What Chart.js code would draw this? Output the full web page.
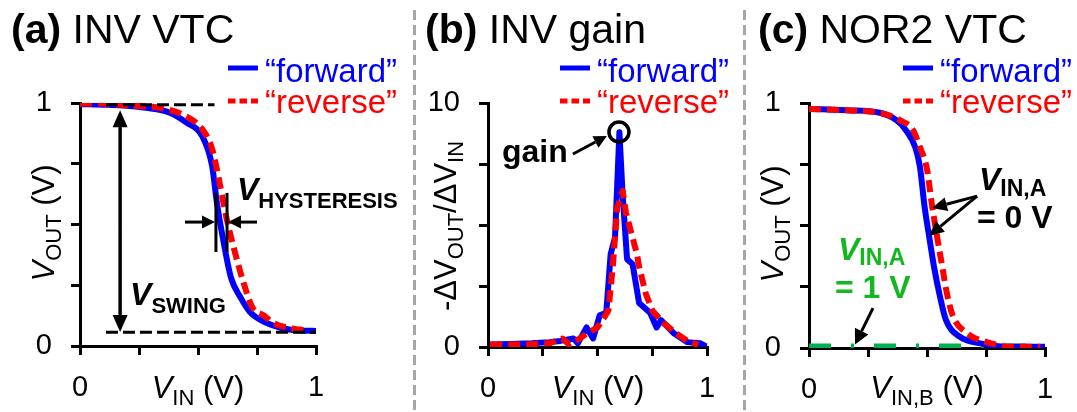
<!DOCTYPE html>
<html>
<head>
<meta charset="utf-8">
<script src="https://cdn.jsdelivr.net/npm/chart.js@4"></script>
<style>
  body { margin: 0; background: #fff; width: 1077px; height: 412px; position: relative; overflow: hidden; }
  canvas { position: absolute; top: 0; }
  .sep { position: absolute; top: 10px; width: 3px; height: 402px;
         background: repeating-linear-gradient(to bottom, #a6a6a6 0 10px, transparent 10px 15px); }
</style>
</head>
<body>
<canvas id="chartA" width="415" height="412" style="left:0"></canvas>
<canvas id="chartB" width="330" height="412" style="left:415px"></canvas>
<canvas id="chartC" width="332" height="412" style="left:745px"></canvas>
<div class="sep" style="left:413px"></div>
<div class="sep" style="left:743px"></div>
<script>
// (a) inverter VTC
const aFwdVin  = [0, 0.1, 0.18, 0.28, 0.38, 0.45, 0.52, 0.56, 0.58, 0.61, 0.64, 0.68, 0.72, 0.79, 0.85, 0.9, 0.95, 1.0];
const aFwdVout = [0.995, 0.993, 0.99, 0.98, 0.96, 0.92, 0.86, 0.74, 0.59, 0.42, 0.28, 0.20, 0.14, 0.095, 0.075, 0.066, 0.063, 0.062];
const aRevVin  = [0, 0.1, 0.2, 0.34, 0.44, 0.52, 0.56, 0.59, 0.62, 0.65, 0.69, 0.73, 0.78, 0.82, 0.88, 0.93, 0.96];
const aRevVout = [0.998, 0.998, 0.99, 0.98, 0.95, 0.89, 0.81, 0.68, 0.53, 0.41, 0.27, 0.16, 0.125, 0.095, 0.075, 0.068, 0.065];

// (b) inverter gain
const bFwdVin  = [0.01, 0.1, 0.2, 0.28, 0.33, 0.36, 0.39, 0.41, 0.45, 0.48, 0.51, 0.54, 0.56, 0.58, 0.60, 0.615, 0.635, 0.66, 0.69, 0.74, 0.77, 0.79, 0.85, 0.91, 0.97, 1.0];
const bFwdGain = [0.1, 0.12, 0.15, 0.2, 0.25, 0.3, 0.35, 0.15, 0.8, 0.35, 1.3, 1.4, 3.8, 4.5, 8.8, 6.2, 3.6, 3.4, 1.8, 1.4, 0.8, 1.1, 0.55, 0.2, 0.15, 0];
const bRevVin  = [0.01, 0.16, 0.28, 0.34, 0.37, 0.42, 0.45, 0.50, 0.53, 0.55, 0.57, 0.59, 0.615, 0.63, 0.66, 0.68, 0.69, 0.72, 0.75, 0.80, 0.86, 0.92, 0.96];
const bRevGain = [0.1, 0.1, 0.15, 0.35, 0.1, 0.35, 0.55, 0.8, 1.2, 1.5, 3.3, 5.7, 6.4, 5.5, 4.5, 3.8, 3.3, 2.2, 1.5, 1.0, 0.55, 0.2, 0.1];

// (c) NOR2 VTC
const cFwdVin  = [0, 0.16, 0.30, 0.37, 0.41, 0.45, 0.47, 0.49, 0.51, 0.53, 0.555, 0.58, 0.64, 0.72, 0.86, 1.0];
const cFwdVout = [0.976, 0.97, 0.96, 0.93, 0.89, 0.82, 0.74, 0.575, 0.45, 0.33, 0.21, 0.115, 0.045, 0.02, 0.005, 0.005];
const cRevVin  = [0, 0.16, 0.30, 0.385, 0.44, 0.47, 0.50, 0.52, 0.54, 0.565, 0.585, 0.61, 0.67, 0.75, 0.86, 0.98];
const cRevVout = [0.976, 0.97, 0.96, 0.93, 0.89, 0.82, 0.73, 0.59, 0.47, 0.33, 0.22, 0.13, 0.06, 0.025, 0.005, 0.005];
const cLowVin  = [0, 0.25, 0.5, 0.75, 1.0];
const cLowVout = [0.006, 0.006, 0.006, 0.006, 0.006];

// labelled ticks
const voltLabels = [0, 1];
const gainLabels = [0, 10];

const F = '"Liberation Sans", Arial, Helvetica, sans-serif';
const BLUE = '#0000ff', RED = '#ff0000', GREEN_LINE = '#00b050', GREEN_TXT = '#12b81e';

function pts(xs, ys) { return xs.map((x, i) => ({ x: x, y: ys[i] })); }

function series(xs, ys, color, dash, order, smooth) {
  return {
    data: pts(xs, ys), borderColor: color, borderWidth: 6, borderDash: dash || [],
    pointRadius: 0, fill: false, order: order, tension: 0,
    cubicInterpolationMode: smooth ? 'monotone' : 'default',
    borderCapStyle: 'butt', borderJoinStyle: 'round'
  };
}

function axis(min, max, step, labelled, size, dir) {
  return {
    type: 'linear', min: min, max: max,
    ticks: {
      stepSize: step, autoSkip: false, maxRotation: 0, color: '#000',
      font: { family: F, size: 29 }, padding: dir === 'x' ? 16 : 19,
      callback: v => labelled.includes(v) ? String(v) : ''
    },
    grid: { drawOnChartArea: false, drawTicks: true, tickLength: 9, lineWidth: 3, color: '#000' },
    border: { display: true, width: 3, color: '#000' },
    afterFit: s => { if (dir === 'x') s.height = size; else s.width = size; }
  };
}

// draw a row of text runs: [text, style, size, dy]
function runs(ctx, x, y, parts, color, center, rotate) {
  ctx.save();
  ctx.fillStyle = color;
  ctx.textBaseline = 'alphabetic';
  ctx.textAlign = 'left';
  const fnt = p => (p[1] ? p[1] + ' ' : '') + p[2] + 'px ' + F;
  let w = 0;
  parts.forEach(p => { ctx.font = fnt(p); w += ctx.measureText(p[0]).width; });
  ctx.translate(x, y);
  if (rotate) ctx.rotate(-Math.PI / 2);
  let cx = center ? -w / 2 : 0;
  parts.forEach(p => {
    ctx.font = fnt(p);
    ctx.fillText(p[0], cx, p[3] || 0);
    cx += ctx.measureText(p[0]).width;
  });
  ctx.restore();
}

function arrow(ctx, x1, y1, x2, y2, head, hw, color) {
  const a = Math.atan2(y2 - y1, x2 - x1);
  const bx = x2 - head * Math.cos(a), by = y2 - head * Math.sin(a);
  ctx.save();
  ctx.strokeStyle = color || '#000'; ctx.fillStyle = color || '#000'; ctx.lineWidth = 3;
  ctx.beginPath(); ctx.moveTo(x1, y1); ctx.lineTo(bx, by); ctx.stroke();
  ctx.beginPath(); ctx.moveTo(x2, y2);
  ctx.lineTo(bx + hw * Math.sin(a), by - hw * Math.cos(a));
  ctx.lineTo(bx - hw * Math.sin(a), by + hw * Math.cos(a));
  ctx.closePath(); ctx.fill();
  ctx.restore();
}

function seg(ctx, x1, y1, x2, y2, w, dash) {
  ctx.save();
  ctx.strokeStyle = '#000'; ctx.lineWidth = w; ctx.setLineDash(dash || []);
  ctx.beginPath(); ctx.moveTo(x1, y1); ctx.lineTo(x2, y2); ctx.stroke();
  ctx.restore();
}

// titles, legend and axis titles, in page pixels
function frame(ctx, ox, p) {
  ctx.save();
  ctx.translate(-ox, 0);
  runs(ctx, p.titleX, 43, [[p.tag, 'bold', 41], [' ' + p.title, '', 41]], '#000');
  const lx = p.legX;
  ctx.lineWidth = 5;
  ctx.strokeStyle = BLUE;
  ctx.beginPath(); ctx.moveTo(lx, 68); ctx.lineTo(lx + 30, 68); ctx.stroke();
  ctx.strokeStyle = RED; ctx.setLineDash([7.5, 4]);
  ctx.beginPath(); ctx.moveTo(lx, 101); ctx.lineTo(lx + 30, 101); ctx.stroke();
  ctx.setLineDash([]);
  runs(ctx, lx + 37, 82, [['\u201cforward\u201d', '', 33]], BLUE);
  runs(ctx, lx + 37, 113, [['\u201creverse\u201d', '', 33]], RED);
  runs(ctx, p.xtX, 398, p.xTitle, '#000', true);
  runs(ctx, p.ytX, p.ytY, p.yTitle, '#000', true, true);
  ctx.restore();
}

function scaler(chart) {
  const sx = chart.scales.x, sy = chart.scales.y;
  return [v => sx.getPixelForValue(v), v => sy.getPixelForValue(v)];
}

const decoA = { id: 'decoA', afterDraw(chart) {
  const ctx = chart.ctx;
  const [X, Y] = scaler(chart);
  seg(ctx, X(0.11), Y(0.993), X(0.57), Y(0.993), 3, [12, 5]);
  seg(ctx, X(0.11), Y(0.057), X(1.0), Y(0.057), 3, [12, 5]);
  // swing double arrow
  const ax = X(0.17);
  seg(ctx, ax, Y(0.9), ax, Y(0.13), 3);
  arrow(ctx, ax, Y(0.5), ax, Y(0.97), 17, 7.5);
  arrow(ctx, ax, Y(0.5), ax, Y(0.058), 17, 7.5);
  runs(ctx, X(0.212), Y(0.169), [['V', 'bold italic', 32], ['SWING', 'bold', 22, 8]], '#000');
  // hysteresis bars and arrows
  seg(ctx, X(0.576), Y(0.63), X(0.576), Y(0.387), 3);
  seg(ctx, X(0.623), Y(0.63), X(0.623), Y(0.387), 3);
  arrow(ctx, X(0.445), Y(0.51), X(0.572), Y(0.51), 13, 6.5);
  arrow(ctx, X(0.75), Y(0.51), X(0.627), Y(0.51), 13, 6.5);
  runs(ctx, X(0.665), Y(0.60), [['V', 'bold italic', 32], ['HYSTERESIS', 'bold', 22, 8]], '#000');
  frame(ctx, 0, {
    titleX: 11, tag: '(a)', title: 'INV VTC', legX: 228,
    xtX: 198, xTitle: [['V', 'italic', 31], ['IN', '', 22, 7], [' (V)', '', 31]],
    ytX: 54, ytY: 223, yTitle: [['V', 'italic', 31], ['OUT', '', 22, 7], [' (V)', '', 31]]
  });
}};

const decoB = { id: 'decoB', afterDraw(chart) {
  const ctx = chart.ctx;
  const [X, Y] = scaler(chart);
  runs(ctx, X(0.064), Y(7.58), [['gain', 'bold', 32]], '#000');
  arrow(ctx, X(0.388), Y(7.91), X(0.543), Y(8.65), 13, 6.5);
  ctx.save();
  ctx.strokeStyle = '#000'; ctx.lineWidth = 3.5;
  ctx.beginPath(); ctx.arc(X(0.598), Y(8.81), 10, 0, Math.PI * 2); ctx.stroke();
  ctx.restore();
  frame(ctx, 415, {
    titleX: 425, tag: '(b)', title: 'INV gain', legX: 560,
    xtX: 598, xTitle: [['V', 'italic', 31], ['IN', '', 22, 7], [' (V)', '', 31]],
    ytX: 456, ytY: 226,
    yTitle: [['-\u0394V', '', 31], ['OUT', '', 22, 7], ['/\u0394V', '', 31], ['IN', '', 22, 7]]
  });
}};

const decoC = { id: 'decoC', afterDraw(chart) {
  const ctx = chart.ctx;
  const [X, Y] = scaler(chart);
  runs(ctx, X(0.72), Y(0.645), [['V', 'bold italic', 32], ['IN,A', 'bold', 23, 6]], '#000');
  runs(ctx, X(0.712), Y(0.49), [['= 0 V', 'bold', 32]], '#000');
  arrow(ctx, X(0.712), Y(0.62), X(0.521), Y(0.571), 15, 7);
  arrow(ctx, X(0.712), Y(0.62), X(0.508), Y(0.457), 15, 7);
  runs(ctx, X(0.123), Y(0.359), [['V', 'bold italic', 32], ['IN,A', 'bold', 23, 5]], GREEN_TXT);
  runs(ctx, X(0.11), Y(0.204), [['= 1 V', 'bold', 32]], GREEN_TXT);
  arrow(ctx, X(0.271), Y(0.163), X(0.195), Y(0.014), 15, 7.5);
  frame(ctx, 745, {
    titleX: 758, tag: '(c)', title: 'NOR2 VTC', legX: 903,
    xtX: 927, xTitle: [['V', 'italic', 31], ['IN,B', '', 22, 7], [' (V)', '', 31]],
    ytX: 783, ytY: 224, yTitle: [['V', 'italic', 31], ['OUT', '', 22, 7], [' (V)', '', 31]]
  });
}};

function makeChart(id, datasets, ymax, ystep, ylab, yw, xh, right, deco) {
  return new Chart(document.getElementById(id), {
    type: 'line',
    data: { datasets: datasets },
    options: {
      responsive: false, animation: false, devicePixelRatio: 1,
      layout: { padding: { top: 103, right: right, left: 0, bottom: 0 } },
      plugins: { legend: { display: false }, tooltip: { enabled: false } },
      scales: {
        x: axis(0, 1, 0.25, voltLabels, xh, 'x'),
        y: axis(0, ymax, ystep, ylab, yw, 'y')
      }
    },
    plugins: [deco]
  });
}

makeChart('chartA', [
  series(aFwdVin, aFwdVout, BLUE, null, 1, true),
  series(aRevVin, aRevVout, RED, [12, 6], 0, true)
], 1, 0.25, voltLabels, 80, 66, 99, decoA);

makeChart('chartB', [
  series(bFwdVin, bFwdGain, BLUE, null, 1, false),
  series(bRevVin, bRevGain, RED, [12, 6], 0, false)
], 10, 2.5, gainLabels, 73, 65, 38, decoB);

makeChart('chartC', [
  series(cLowVin, cLowVout, GREEN_LINE, [22, 20, 3, 20], 2, false),
  series(cFwdVin, cFwdVout, BLUE, null, 1, true),
  series(cRevVin, cRevVout, RED, [12, 6], 0, true)
], 1, 0.25, voltLabels, 64, 64, 32, decoC);
</script>
</body>
</html>
